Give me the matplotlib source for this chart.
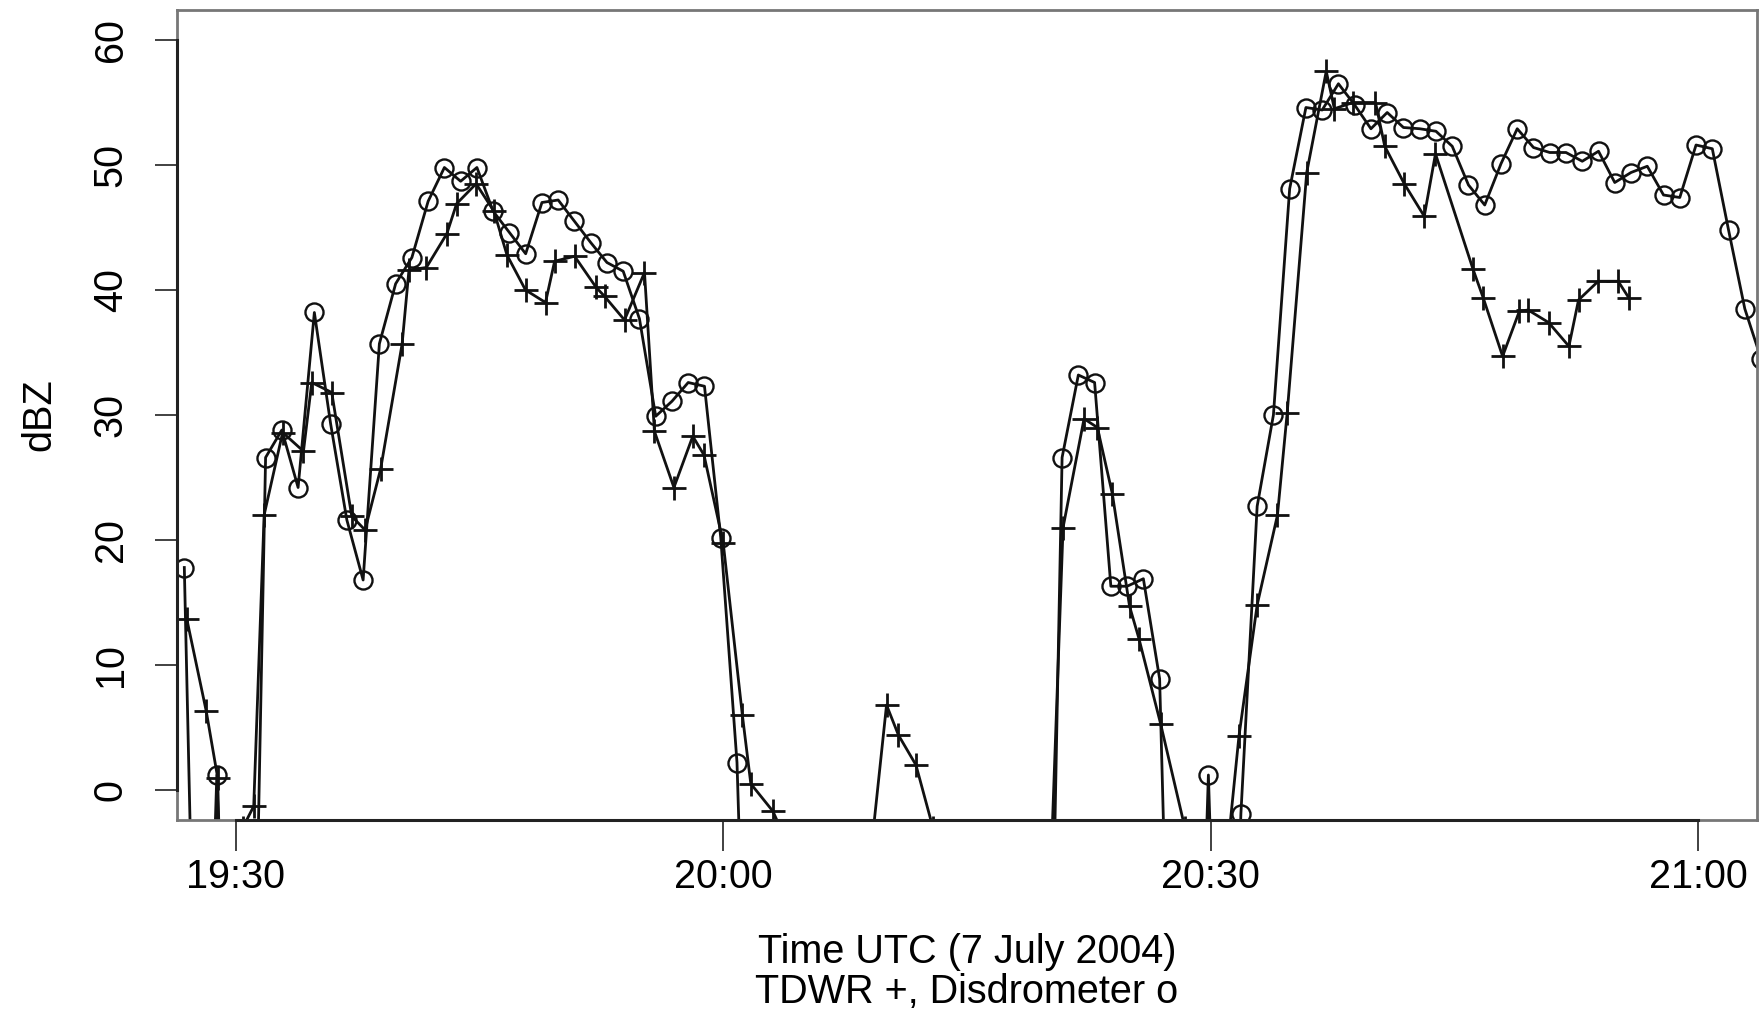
import numpy as np
import matplotlib
matplotlib.use("Agg")
import matplotlib.pyplot as plt

plt.rcParams['font.family'] = ['Liberation Sans', 'DejaVu Sans']

# time axis in minutes after 19:00 UTC (7 July 2004)
NO_RAIN = -40.0   # floor used when the disdrometer sees nothing

# disdrometer: one reflectivity per minute
disdro_t = np.arange(26.85, 124.0, 1.0)
disdro_dbz = [17.8, NO_RAIN, 1.2, NO_RAIN, NO_RAIN, 26.6, 28.8, 24.2, 38.2, 29.3,
              21.6, 16.8, 35.7, 40.5, 42.6, 47.1, 49.8, 48.7, 49.8, 46.3,
              44.6, 42.9, 47.0, 47.2, 45.5, 43.8, 42.2, 41.5, 37.7, 29.9,
              31.1, 32.6, 32.3, 20.2, 2.2,
              NO_RAIN, NO_RAIN, NO_RAIN, NO_RAIN, NO_RAIN, NO_RAIN, NO_RAIN,
              NO_RAIN, NO_RAIN, NO_RAIN, NO_RAIN, NO_RAIN, NO_RAIN, NO_RAIN,
              NO_RAIN, NO_RAIN, NO_RAIN, NO_RAIN, NO_RAIN,
              26.6, 33.2, 32.6, 16.3, 16.3, 16.9, 8.9, NO_RAIN, NO_RAIN, 1.2,
              NO_RAIN, -1.9, 22.7, 30.0, 48.1, 54.6, 54.4, 56.5, 54.8, 52.9,
              54.2, 53.0, 52.9, 52.7, 51.5, 48.4, 46.8, 50.1, 52.9, 51.4,
              51.0, 51.0, 50.3, 51.1, 48.6, 49.4, 49.9, 47.6, 47.4, 51.6,
              51.3, 44.8, 38.5, 34.5]

# TDWR gate over the disdrometer, irregular scan times
tdwr_t = [27.0, 28.2, 28.9, 29.7, 30.45, 31.12, 31.76, 32.9, 34.18, 34.69,
          35.92, 37.15, 37.97, 38.93, 40.25, 40.67, 41.74, 43.0, 43.6, 44.8,
          45.9, 46.7, 47.84, 49.07, 49.63, 50.86, 52.19, 52.7, 53.93, 55.16,
          55.77, 56.97, 58.13, 58.82, 60.0, 61.18, 61.7, 63.06, 64.2, 69.0,
          70.05, 70.78, 71.86, 72.9, 80.0, 80.91, 82.2, 83.02, 83.94, 85.0,
          85.58, 86.91, 88.4, 90.7, 91.73, 92.85, 94.1, 94.7, 95.9, 97.1,
          97.6, 98.75, 100.13, 100.7, 101.9, 103.13, 103.82, 106.12, 106.75, 107.95,
          108.98, 109.52, 110.78, 112.03, 112.62, 113.83, 115.06, 115.7]
tdwr_dbz = [13.7, 6.3, 1.0, -40.0, -3.0, -1.3, 22.0, 28.6, 27.1, 32.6,
            31.8, 21.9, 20.8, 25.7, 35.7, 41.6, 41.8, 44.5, 46.9, 48.5,
            46.3, 42.8, 40.0, 39.0, 42.3, 42.7, 40.2, 39.5, 37.6, 41.4,
            28.7, 24.2, 28.3, 26.8, 19.8, 6.0, 0.5, -1.7, -5.0, -6.1,
            6.8, 4.4, 2.0, -3.0, -12.0, 21.0, 29.7, 29.0, 23.7, 14.7,
            12.1, 5.3, -3.0, -9.0, 4.3, 14.8, 22.0, 30.2, 49.4, 57.5,
            54.5, 55.0, 55.0, 51.5, 48.5, 45.9, 50.9, 41.7, 39.4, 34.7,
            38.3, 38.4, 37.4, 35.5, 39.2, 40.7, 40.7, 39.4]

xtick_min = [30, 60, 90, 120]
xtick_lab = ["19:30", "20:00", "20:30", "21:00"]
ytick_val = [0, 10, 20, 30, 40, 50, 60]

fig = plt.figure(figsize=(17.6, 10.1), dpi=100)
ax = fig.add_axes([177 / 1760, 1 - 820 / 1010, 1580 / 1760, 810 / 1010])

ax.plot(tdwr_t, tdwr_dbz, color='#111111', lw=2.0, marker='+',
        markersize=17, mew=2.0)
ax.plot(disdro_t, disdro_dbz, color='#111111', lw=2.0, marker='o',
        markersize=13, mew=1.7, mfc='none')

# same padding as R's default 4% around 19:30-21:00 and 0-60
ax.set_xlim(26.4, 123.6)
ax.set_ylim(-2.4, 62.4)

ax.set_xticks(xtick_min)
ax.set_xticklabels(xtick_lab)
ax.set_yticks(ytick_val)
ax.set_yticklabels([str(v) for v in ytick_val], rotation=90, va='center')
ax.tick_params(axis='x', length=22, width=1.3, color='#333333',
               labelsize=28.5, pad=5)
ax.tick_params(axis='y', length=16, width=1.3, color='#333333',
               labelsize=28.5, pad=18)

for s in ax.spines.values():
    s.set_color('#777777')
    s.set_linewidth(2.0)

# R draws the axis line only between the outer ticks
ax.plot([xtick_min[0], xtick_min[-1]], [-2.4, -2.4], color='#222222',
        lw=2.2, clip_on=False, zorder=5)
ax.plot([26.4, 26.4], [ytick_val[0], ytick_val[-1]], color='#222222',
        lw=2.2, clip_on=False, zorder=5)

ax.set_ylabel("dBZ", fontsize=28.5, labelpad=24)
fig.text((177 + 1757) / 2 / 1760, 1 - 952 / 1010, "Time UTC (7 July 2004)",
         ha='center', va='center', fontsize=28.5)
fig.text((177 + 1757) / 2 / 1760, 1 - 992 / 1010, "TDWR +, Disdrometer o",
         ha='center', va='center', fontsize=28.5)

fig.savefig("out.png", dpi=100)
